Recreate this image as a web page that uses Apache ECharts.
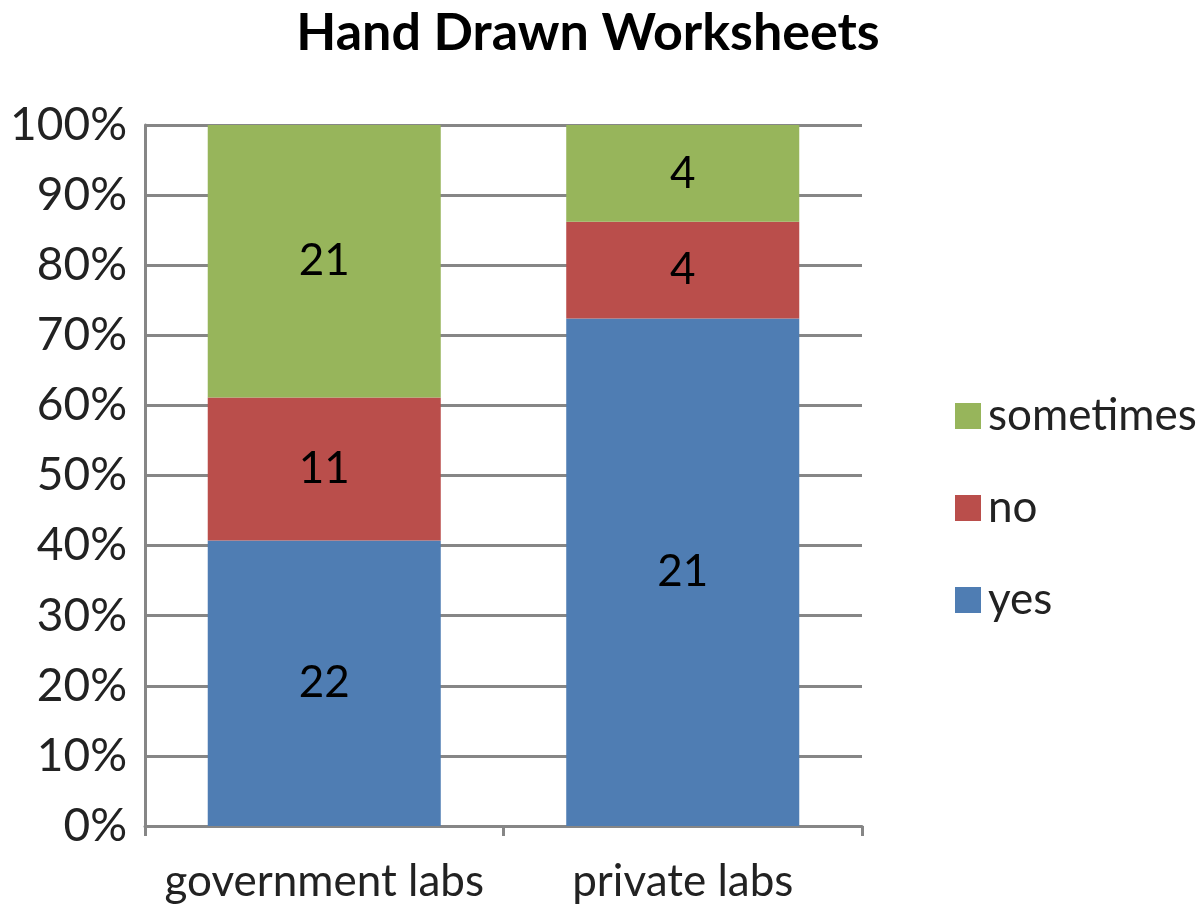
<!DOCTYPE html>
<html>
<head>
    <meta charset="UTF-8">
    <title>Hand Drawn Worksheets</title>
    <script src="https://cdn.jsdelivr.net/npm/echarts@6/dist/echarts.min.js"></script>
    <style>
        html, body { margin: 0; padding: 0; background: #fff; }
    </style>
</head>
<body>
<div id="main" style="width: 1200px;height:911px;"></div>
<script type="text/javascript">
    // counts per answer
    var categories = ['government labs', 'private labs'];
    var yesCounts = [22, 21];
    var noCounts = [11, 4];
    var sometimesCounts = [21, 4];
    var yTicks = ['0%', '10%', '20%', '30%', '40%', '50%', '60%', '70%', '80%', '90%', '100%'];

    var totals = categories.map(function (c, i) {
        return yesCounts[i] + noCounts[i] + sometimesCounts[i];
    });

    // 100% stacked: value is share, label is the raw count
    function shares(counts) {
        return counts.map(function (v, i) {
            return {value: v / totals[i] * 100, count: v};
        });
    }

    var fontFam = 'Lato, "Open Sans", sans-serif';
    var barLabel = {
        show: true,
        position: 'inside',
        color: '#000',
        fontSize: 44,
        fontFamily: fontFam,
        formatter: function (p) { return p.data.count; }
    };

    echarts.init(document.getElementById('main')).setOption({
        animation: false,
        title: {
            text: 'Hand Drawn Worksheets',
            left: 583,
            top: 2,
            textAlign: 'center',
            textStyle: {fontSize: 52, fontWeight: 'bold', color: '#000', fontFamily: fontFam}
        },
        grid: {left: 145, right: 338, top: 125, bottom: 85},
        legend: {
            orient: 'vertical',
            left: 950,
            top: 389,
            itemWidth: 26,
            itemHeight: 26,
            itemGap: 48,
            icon: 'rect',
            data: ['sometimes', 'no', 'yes'],
            textStyle: {fontSize: 44, color: '#222', fontFamily: fontFam, padding: [0, 0, 0, 2]}
        },
        xAxis: {
            type: 'category',
            data: categories,
            axisLine: {lineStyle: {color: '#868686', width: 3}},
            axisTick: {show: true, length: 10, lineStyle: {color: '#868686', width: 3}},
            axisLabel: {interval: 0, fontSize: 44, color: '#222', fontFamily: fontFam, margin: 34}
        },
        yAxis: {
            type: 'value',
            min: 0,
            max: 100,
            interval: 10,
            axisLine: {show: true, lineStyle: {color: '#868686', width: 3}},
            axisTick: {show: false},
            splitLine: {lineStyle: {color: '#868686', width: 3}},
            axisLabel: {
                fontSize: 46, color: '#222', fontFamily: fontFam, margin: 18,
                formatter: function (v) { return yTicks[Math.round(v / 10)]; }
            }
        },
        series: [
            {name: 'yes', type: 'bar', stack: 'all', barWidth: '65%', data: shares(yesCounts),
                itemStyle: {color: '#4F7DB3'}, label: barLabel},
            {name: 'no', type: 'bar', stack: 'all', data: shares(noCounts),
                itemStyle: {color: '#BA4E4B'}, label: barLabel},
            {name: 'sometimes', type: 'bar', stack: 'all', data: shares(sometimesCounts),
                itemStyle: {color: '#97B55B'}, label: barLabel}
        ]
    });
</script>
</body>
</html>
